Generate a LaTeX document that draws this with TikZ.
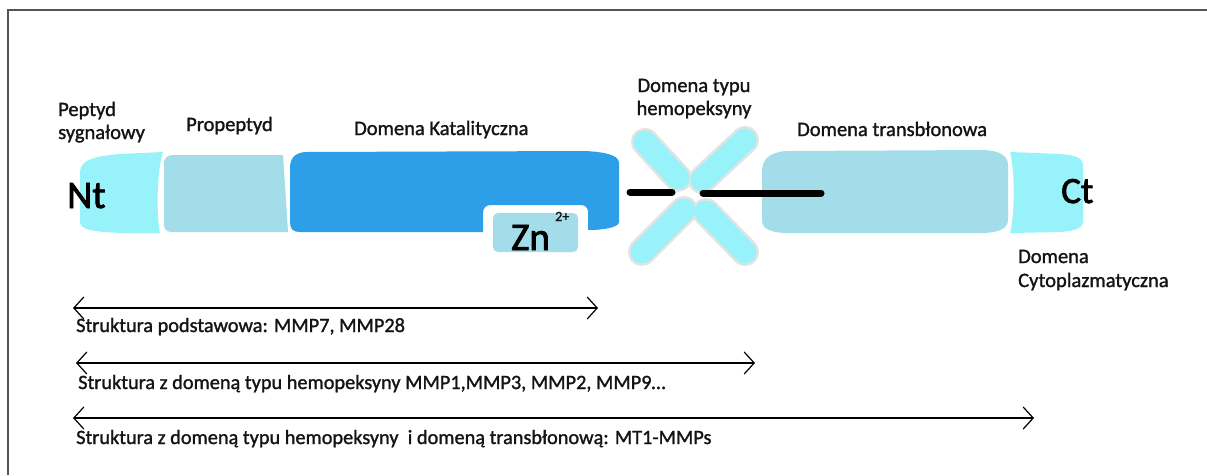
\documentclass[tikz,border=0pt]{standalone}
\usepackage{fontspec}
\setmainfont{Carlito}[FakeBold=1.3]
\newfontfamily\semib{Carlito}[FakeBold=1.3]
\newfontfamily\bigf{Carlito}[FakeBold=2.2]
\usetikzlibrary{arrows.meta}
\definecolor{cyanA}{HTML}{97F3F9}
\definecolor{blueB}{HTML}{A4DDEA}
\definecolor{blueC}{HTML}{2D9EE8}
\definecolor{frameC}{HTML}{555555}
\definecolor{txt}{HTML}{141414}
\tikzset{
  lbl/.style={inner sep=0pt, anchor=base west, text=txt, font=\semib\fontsize{20.5}{24}\selectfont},
  lblc/.style={inner sep=0pt, anchor=base, text=txt, font=\semib\fontsize{20.5}{24}\selectfont},
  big/.style={inner sep=0pt, anchor=base west, text=black, font=\bigf\fontsize{39}{44}\selectfont},
  struct/.style={inner sep=0pt, anchor=base west, text=txt, font=\semib\fontsize{20.3}{24}\selectfont},
  span/.style={line width=1.3pt, {Straight Barb[length=10pt,width=22pt,line width=1.2pt]}-{Straight Barb[length=10pt,width=22pt,line width=1.2pt]}},
  arm/.style={line cap=round, line width=23pt, cyanA},
  armhalo/.style={line cap=round, line width=28pt, gray!22},
  linker/.style={line cap=round, line width=7pt, black}
}
\begin{document}
\begin{tikzpicture}[x=1pt,y=-1pt]
\useasboundingbox (0,0) rectangle (1207,475);
\fill[white] (0,0) rectangle (1207,475);
% frame
\draw[line width=1.5pt, frameC] (8,475) -- (8,10) -- (1207,10);

% signal peptide
\fill[cyanA] (80,172) .. controls (80,160) and (95,156) .. (120,154) -- (163,152)
  .. controls (157,170) and (156,215) .. (160,233) -- (122,233)
  .. controls (95,232) and (80,230) .. (80,222) -- cycle;
% propeptide
\fill[blueB] (164,165) .. controls (164,158) and (166,156) .. (172,155) -- (283,155)
  -- (288,232) -- (172,232) .. controls (166,232) and (164,229) .. (164,224) -- cycle;
% catalytic domain
\fill[blueC] (290,168) .. controls (290,158) and (295,153) .. (305,152) -- (585,151)
  .. controls (605,152) and (619,155) .. (619,163) -- (619,222)
  .. controls (619,227) and (605,230) .. (588,230) -- (588,212)
  .. controls (588,207) and (585,205) .. (580,205) -- (491,205)
  .. controls (486,205) and (483,208) .. (483,213) -- (483,232) -- (300,232)
  .. controls (293,232) and (290,229) .. (290,222) -- cycle;
% zinc box
\fill[blueB, rounded corners=5pt] (493,213) rectangle (578,252);

% hemopexin X
\draw[armhalo] (645,142) -- (678,178);
\draw[armhalo] (745,140) -- (702,180);
\draw[armhalo] (642,252) -- (684,210);
\draw[armhalo] (745,252) -- (706,212);
\draw[arm] (645,142) -- (678,178);
\draw[arm] (745,140) -- (702,180);
\draw[arm] (642,252) -- (684,210);
\draw[arm] (745,252) -- (706,212);

% transmembrane domain
\fill[blueB] (762,172) .. controls (762,160) and (768,153) .. (785,151) -- (985,150)
  .. controls (1000,151) and (1008,156) .. (1008,165) -- (1008,220)
  .. controls (1008,228) and (1000,232) .. (985,233) -- (785,233)
  .. controls (768,232) and (762,228) .. (762,220) -- cycle;
% cytoplasmic domain
\fill[cyanA] (1010,152) .. controls (1015,170) and (1015,215) .. (1010,233) -- (1060,232)
  .. controls (1075,231) and (1083,228) .. (1083,222) -- (1083,165)
  .. controls (1083,158) and (1075,155) .. (1060,154) -- cycle;

% linkers
\coordinate (l1a) at (630,192);
\coordinate (l1b) at (672,192);
\coordinate (l2a) at (703,193);
\coordinate (l2b) at (821,193);
\draw[linker] (l1a) -- (l1b);
\draw[linker] (l2a) -- (l2b);

% labels
\node[lbl] (ps1) at (58,116) {Peptyd};
\node[lbl] (ps2) at (58,139) {sygnałowy};
\node[lbl] (pro) at (186,131) {Propeptyd};
\node[lbl] (kat) at (354,135) {Domena Katalityczna};
\node[lblc] (hem1) at (694,92) {Domena typu};
\node[lblc] (hem2) at (694,115) {hemopeksyny};
\node[lbl] (tm) at (797,136) {Domena transbłonowa};
\node[lbl] (cyt1) at (1018,263) {Domena};
\node[lbl] (cyt2) at (1018,287) {Cytoplazmatyczna};
\node[big] (nt) at (67,208) {Nt};
\node[big] (zn) at (511,250) {Zn};
\node[inner sep=0pt, anchor=base west, text=txt, font=\semib\fontsize{14}{16}\selectfont] (zc) at (555,221) {2+};
\node[big, font=\bigf\fontsize{37}{42}\selectfont] (ct) at (1061,203) {Ct};

% span arrows
\coordinate (a1l) at (73,308);
\coordinate (a1r) at (598,308);
\coordinate (a2l) at (76,363);
\coordinate (a2r) at (755,363);
\coordinate (a3l) at (73,418);
\coordinate (a3r) at (1034,418);
\draw[span] (a1l) -- (a1r);
\draw[span] (a2l) -- (a2r);
\draw[span] (a3l) -- (a3r);
\node[struct] (s1) at (76,332) {Struktura podstawowa: MMP7, MMP28};
\node[struct] (s2) at (78,389) {Struktura z domeną typu hemopeksyny MMP1,MMP3, MMP2, MMP9…};
\node[struct] (s3) at (76,444) {Struktura z domeną typu hemopeksyny~ i domeną transbłonową: MT1-MMPs};
\end{tikzpicture}
\end{document}
